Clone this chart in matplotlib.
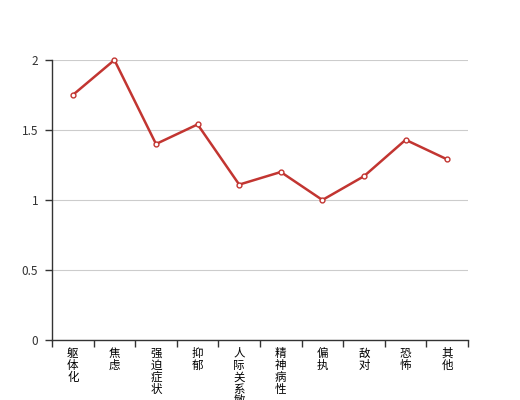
import matplotlib
matplotlib.use("Agg")
import matplotlib.pyplot as plt
import numpy as np

plt.rcParams['font.family'] = ['Noto Sans CJK SC', 'DejaVu Sans']

# 数据
categories = ['躯体化', '焦虑', '强迫症状', '抑郁', '人际关系敏感', '精神病性', '偏执', '敌对', '恐怖', '其他']
values = [1.75, 2.0, 1.4, 1.54, 1.11, 1.2, 1.0, 1.17, 1.43, 1.29]
y_ticks = [0, 0.5, 1, 1.5, 2]
y_tick_labels = ['0', '0.5', '1', '1.5', '2']

fig = plt.figure(figsize=(5.2, 4.0), dpi=100)
ax = fig.add_axes([0.1, 0.15, 0.8, 0.7])

x = np.arange(len(categories))
ax.plot(x, values, color='#c23531', lw=1.8, marker='o', markersize=3.5,
        markerfacecolor='white', markeredgecolor='#c23531', markeredgewidth=1,
        zorder=3, clip_on=False)

ax.set_xlim(-0.5, len(categories) - 0.5)
ax.set_ylim(0, 2)
ax.set_yticks(y_ticks)
ax.set_yticklabels(y_tick_labels)
ax.yaxis.grid(True, color='#cccccc', lw=0.8)
ax.set_axisbelow(True)

# x 轴: 刻度在类目边界, 标签竖排
ax.set_xticks(np.arange(len(categories) + 1) - 0.5)
ax.set_xticklabels([])
ax.set_xticks(x, minor=True)
ax.set_xticklabels(['\n'.join(c) for c in categories], minor=True,
                   va='top', linespacing=0.9, fontsize=8.3)
ax.tick_params(axis='x', which='minor', length=0, pad=5)
ax.tick_params(axis='x', which='major', length=5, color='#333333', width=1)
ax.tick_params(axis='y', length=5, color='#333333', width=1, pad=5, labelsize=8.5)
ax.tick_params(labelcolor='#333333')

for s in ['top', 'right']:
    ax.spines[s].set_visible(False)
for s in ['left', 'bottom']:
    ax.spines[s].set_color('#333333')
    ax.spines[s].set_linewidth(1)

fig.savefig('out.png', dpi=100)
